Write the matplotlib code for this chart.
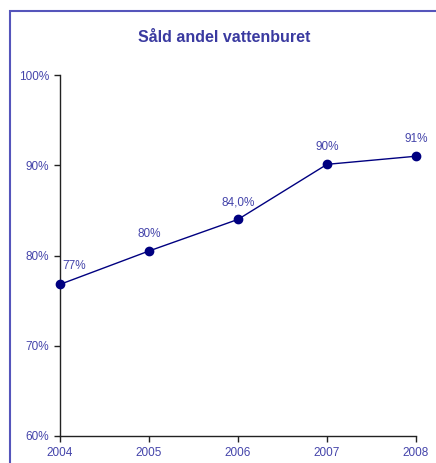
import matplotlib
matplotlib.use('Agg')
import matplotlib.pyplot as plt
from matplotlib.patches import Rectangle

years = [2004, 2005, 2006, 2007, 2008]
share = [76.8, 80.5, 84.0, 90.1, 91.0]
labels = ['77%', '80%', '84,0%', '90%', '91%']
yticks = [60, 70, 80, 90, 100]

txt_col = '#4444aa'
plt.rcParams['font.family'] = ['Liberation Sans', 'DejaVu Sans']

fig = plt.figure(figsize=(4.36, 4.63), dpi=100)
# frame round the chart (only left and top edges are visible)
fig.patches.append(Rectangle((10 / 436, -0.1), 1.2, 1 - 11 / 463 + 0.1,
                             transform=fig.transFigure, fill=False,
                             edgecolor='#5555bb', linewidth=1.5))

ax = fig.add_axes([60 / 436, 1 - 436 / 463, 356 / 436, 361 / 463])
ax.plot(years, share, color='#000080', linewidth=1, marker='o', markersize=6,
        clip_on=False, zorder=3)

for i, (x, y, lab) in enumerate(zip(years, share, labels)):
    if i == 0:
        ax.annotate(lab, (x, y), xytext=(2, 9), textcoords='offset points',
                    ha='left', va='bottom', fontsize=8.5, color=txt_col)
    else:
        ax.annotate(lab, (x, y), xytext=(0, 8), textcoords='offset points',
                    ha='center', va='bottom', fontsize=8.5, color=txt_col)

ax.set_xlim(2004, 2008)
ax.set_ylim(60, 100)
ax.set_xticks(years)
ax.set_yticks(yticks)
ax.set_yticklabels(['%d%%' % v for v in yticks])
ax.tick_params(axis='both', labelsize=8.5, labelcolor=txt_col, color='#222222',
               length=4, width=1)
ax.tick_params(axis='y', pad=4)
ax.tick_params(axis='x', pad=4)
for s in ['top', 'right']:
    ax.spines[s].set_visible(False)
for s in ['left', 'bottom']:
    ax.spines[s].set_color('#222222')
    ax.spines[s].set_linewidth(1)

fig.text(224 / 436, 1 - 37 / 463, 'Såld andel vattenburet', ha='center', va='center',
         fontsize=11.5, fontweight='bold', color='#3a3aa0')

fig.savefig('out.png', dpi=100)
